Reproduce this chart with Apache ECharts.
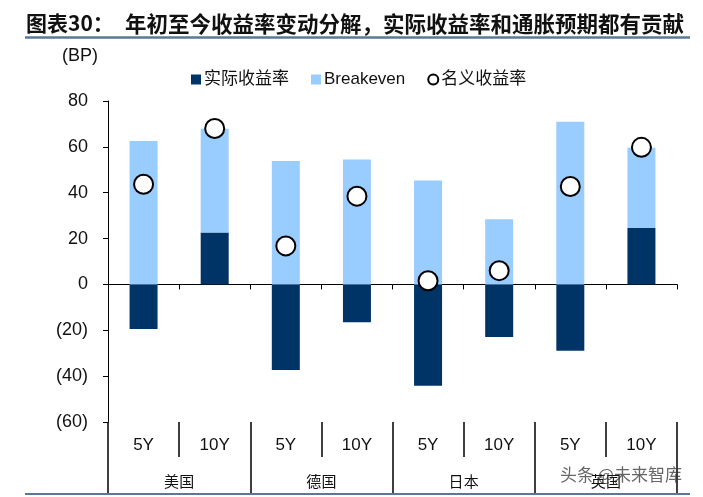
<!DOCTYPE html>
<html>
<head>
<meta charset="utf-8">
<script src="https://cdn.jsdelivr.net/npm/echarts@6/dist/echarts.min.js"></script>
<style>
  html, body { margin: 0; padding: 0; background: #fff; }
  #chart { width: 703px; height: 497px; }
</style>
</head>
<body>
<div id="chart"></div>
<script>
// 数据
var tenors = ['5Y', '10Y', '5Y', '10Y', '5Y', '10Y', '5Y', '10Y'];
var countries = ['美国', '德国', '日本', '英国'];
var realYield = [-19.4, 22.6, -37.3, -16.5, -44.2, -22.9, -28.9, 24.6];
var breakeven = [62.5, 45.3, 53.8, 54.5, 45.3, 28.4, 71.0, 35.0];
var nominalYield = [43.7, 68.0, 16.8, 38.5, 1.6, 6.0, 42.7, 59.8];
var yTicks = { min: -60, max: 80, step: 20 };

var latin = '"Liberation Sans", Arial, "Noto Sans CJK SC", sans-serif';
var cjk = '"Noto Sans CJK SC", sans-serif';

var myChart = echarts.init(document.getElementById('chart'));
myChart.setOption({
  animation: false,
  backgroundColor: '#fff',
  legend: {
    left: 186,
    top: 66,
    itemWidth: 10,
    itemHeight: 10,
    itemGap: 22,
    textStyle: { fontFamily: latin, fontSize: 17, color: '#111', padding: [0, 0, 0, -2] },
    data: [
      { name: '实际收益率', icon: 'rect' },
      { name: 'Breakeven', icon: 'rect' },
      { name: '名义收益率', icon: 'circle' }
    ]
  },
  grid: { left: 108, right: 26, top: 101, bottom: 75, containLabel: false },
  xAxis: [
    {
      type: 'category',
      data: tenors,
      position: 'bottom',
      axisLine: { onZero: true, lineStyle: { color: '#000', width: 1 } },
      axisTick: { show: true, length: 5, lineStyle: { color: '#000' } },
      axisLabel: { show: false }
    },
    {
      type: 'category',
      data: tenors,
      position: 'bottom',
      offset: 0,
      axisLine: { show: false, onZero: false },
      axisTick: { show: true, length: 35, lineStyle: { color: '#000', width: 1.5 } },
      axisLabel: { margin: 15, fontFamily: latin, fontSize: 17, color: '#111' }
    },
    {
      type: 'category',
      data: countries,
      position: 'bottom',
      offset: 0,
      axisLine: { show: false, onZero: false },
      axisTick: { show: true, length: 71, lineStyle: { color: '#000', width: 1.5 } },
      axisLabel: { margin: 52, fontFamily: cjk, fontSize: 15, color: '#111' }
    }
  ],
  yAxis: {
    type: 'value',
    min: yTicks.min,
    max: yTicks.max,
    interval: yTicks.step,
    axisLine: { show: true, lineStyle: { color: '#000', width: 1 } },
    axisTick: { show: true, length: 5, lineStyle: { color: '#000' } },
    splitLine: { show: false },
    axisLabel: {
      margin: 20,
      fontFamily: latin,
      fontSize: 18,
      color: '#111',
      formatter: function (v) { return v < 0 ? '(' + (-v) + ')' : String(v); }
    }
  },
  graphic: [
    { type: 'text', left: 26, top: 13, style: { text: '图表30：', font: 'bold 21px ' + cjk, fill: '#111' } },
    { type: 'text', left: 125, top: 13, style: { text: '年初至今收益率变动分解，实际收益率和通胀预期都有贡献', font: 'bold 21.5px ' + cjk, fill: '#111' } },
    { type: 'line', shape: { x1: 25, y1: 37.5, x2: 690, y2: 37.5 }, style: { stroke: '#5a7897', lineWidth: 2.5 } },
    { type: 'line', shape: { x1: 25, y1: 494, x2: 690, y2: 494 }, style: { stroke: '#5a7897', lineWidth: 2 } },
    { type: 'text', left: 62, top: 47, style: { text: '(BP)', font: '18px ' + latin, fill: '#111' } },
    { type: 'text', left: 560, top: 466, style: { text: '头条 @未来智库', font: '17px ' + cjk, fill: '#333', opacity: 0.75 }, z: 100 }
  ],
  series: [
    {
      name: '实际收益率',
      type: 'bar',
      stack: 'total',
      barWidth: 28,
      itemStyle: { color: '#003366' },
      data: realYield
    },
    {
      name: 'Breakeven',
      type: 'bar',
      stack: 'total',
      barWidth: 28,
      itemStyle: { color: '#99ccff' },
      data: breakeven
    },
    {
      name: '名义收益率',
      type: 'scatter',
      symbol: 'circle',
      symbolSize: 19,
      itemStyle: { color: '#fff', borderColor: '#000', borderWidth: 2, opacity: 1 },
      z: 5,
      data: nominalYield
    }
  ]
});
</script>
</body>
</html>
